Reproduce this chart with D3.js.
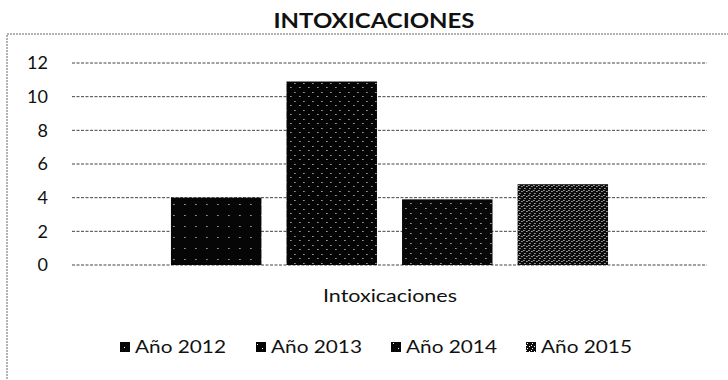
<!DOCTYPE html>
<html>
<head>
<meta charset="utf-8">
<script src="https://cdn.jsdelivr.net/npm/d3@7"></script>
<style>
  html, body { margin: 0; padding: 0; background: #fff; }
  svg { display: block; }
  text { font-family: Lato, "Noto Sans", sans-serif; fill: #111; }
</style>
</head>
<body>
<svg id="chart" width="728" height="380"></svg>
<script>
// Data
const category = "Intoxicaciones";
const series = ["Año 2012", "Año 2013", "Año 2014", "Año 2015"];
const values = [4, 10.9, 3.9, 4.8];
const yTicks = [0, 2, 4, 6, 8, 10, 12];
const title = "INTOXICACIONES";

const svg = d3.select("#chart");
const W = 728, H = 380;
const plot = { left: 72, right: 707, top: 63, bottom: 265 };

// Fills: solid and speckled textures for the series
const defs = svg.append("defs");
function speckle(id, size, base, dots) {
  const p = defs.append("pattern").attr("id", id)
    .attr("patternUnits", "userSpaceOnUse").attr("width", size).attr("height", size);
  p.append("rect").attr("width", size).attr("height", size).attr("fill", base);
  dots.forEach(([x, y]) => p.append("rect").attr("x", x).attr("y", y)
    .attr("width", 1).attr("height", 1).attr("fill", "#fff"));
}
speckle("p2012", 11, "#060606", [[4, 6]]);
speckle("p2013", 9, "#040404", [[1, 2], [6, 6]]);
speckle("p2014", 10, "#080808", [[2, 3], [7, 8]]);
speckle("p2015", 5, "#0c0c0c", [[0, 0], [3, 1], [1, 3]]);
const fills = ["url(#p2012)", "url(#p2013)", "url(#p2014)", "url(#p2015)"];

// Chart frame (dotted)
svg.append("path")
  .attr("d", `M7,${H + 2} L7,34 L${W + 2},34`)
  .attr("fill", "none").attr("stroke", "#666").attr("stroke-width", 1)
  .attr("stroke-dasharray", "2,1");

// Title
svg.append("text")
  .attr("x", 374).attr("y", 28)
  .attr("text-anchor", "middle")
  .attr("font-size", 21).attr("font-weight", 700)
  .attr("textLength", 201).attr("lengthAdjust", "spacingAndGlyphs")
  .text(title);

// Scales
const y = d3.scaleLinear().domain([0, 12]).range([plot.bottom, plot.top]);
const x0 = d3.scaleBand().domain([category]).range([plot.left, plot.right])
  .paddingInner(0).paddingOuter(0.187);
const x1 = d3.scaleBand().domain(series).range([0, x0.bandwidth()])
  .paddingInner(0.217).paddingOuter(0.1085);

// Gridlines
svg.append("g")
  .selectAll("line").data(yTicks).join("line")
  .attr("x1", plot.left).attr("x2", plot.right)
  .attr("y1", d => y(d)).attr("y2", d => y(d))
  .attr("stroke", "#444").attr("stroke-width", 1)
  .attr("stroke-dasharray", "3,1.5");

// Y axis labels
const yAxis = svg.append("g")
  .attr("transform", `translate(${plot.left},0)`)
  .call(d3.axisLeft(y).tickValues(yTicks).tickSize(0).tickPadding(24));
yAxis.select(".domain").remove();
yAxis.selectAll("text")
  .attr("font-size", 18).attr("font-family", "Lato, sans-serif").attr("fill", "#111");

// Bars
svg.append("g")
  .attr("transform", `translate(${x0(category)},0)`)
  .selectAll("rect").data(series).join("rect")
  .attr("x", d => x1(d))
  .attr("y", (d, i) => y(values[i]))
  .attr("width", x1.bandwidth())
  .attr("height", (d, i) => y(0) - y(values[i]))
  .attr("fill", (d, i) => fills[i]);

// Category label
svg.append("text")
  .attr("x", 323).attr("y", 302)
  .attr("font-size", 17)
  .attr("textLength", 134).attr("lengthAdjust", "spacingAndGlyphs")
  .text(category);

// Legend
const legendX = [120, 256, 391, 526];
const legend = svg.append("g").selectAll("g").data(series).join("g")
  .attr("transform", (d, i) => `translate(${legendX[i]},0)`);
legend.append("rect")
  .attr("x", 0).attr("y", 342).attr("width", 10).attr("height", 10)
  .attr("fill", (d, i) => fills[i]);
legend.append("text")
  .attr("x", 15).attr("y", 353)
  .attr("font-size", 17)
  .attr("textLength", 91).attr("lengthAdjust", "spacingAndGlyphs")
  .text(d => d);
</script>
</body>
</html>
